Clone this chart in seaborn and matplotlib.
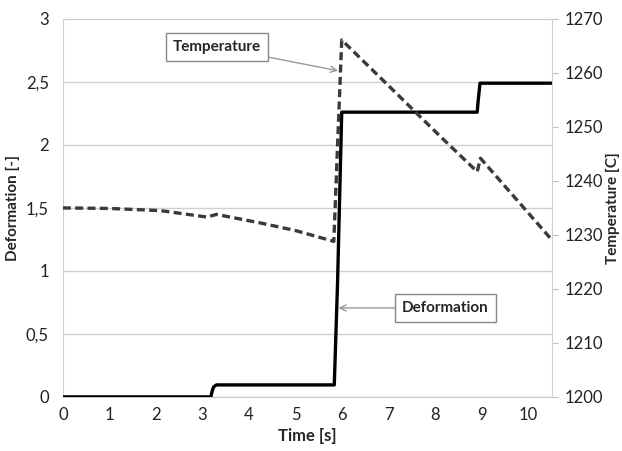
import pandas as pd
import matplotlib.pyplot as plt
import seaborn as sns

# Deformation trace (left axis)
def_time = [0, 3.18, 3.21, 3.24, 3.3, 5.83, 5.9, 5.99, 8.9, 8.92, 8.96, 10.5]
def_value = [0, 0, 0.05, 0.08, 0.095, 0.095, 0.9, 2.26, 2.26, 2.35, 2.49, 2.49]

# Temperature trace (right axis)
temp_time = [0, 1.0, 2.1, 3.1, 3.3, 4.25, 5.0, 5.82, 5.99, 7.0, 8.1, 8.9, 8.97, 10.5]
temp_value = [1235, 1234.9, 1234.5, 1233.3, 1233.8, 1232.2, 1230.8, 1228.8,
              1266.1, 1257.6, 1248.3, 1241.7, 1244.2, 1229.1]

left_ticks = [0, 0.5, 1, 1.5, 2, 2.5, 3]
left_labels = ['0', '0,5', '1', '1,5', '2', '2,5', '3']
right_ticks = [1200, 1210, 1220, 1230, 1240, 1250, 1260, 1270]
x_ticks = list(range(0, 11))

df_def = pd.DataFrame({'t': def_time, 'd': def_value})
df_temp = pd.DataFrame({'t': temp_time, 'T': temp_value})

sns.set_style('white')
plt.rcParams['font.family'] = ['Lato', 'DejaVu Sans']

fig = plt.figure(figsize=(6.22, 4.51), dpi=100)
ax = fig.add_axes([0.101, 0.12, 0.786, 0.838])
ax2 = ax.twinx()

sns.lineplot(data=df_def, x='t', y='d', ax=ax, color='black', linewidth=2.4, zorder=3)
sns.lineplot(data=df_temp, x='t', y='T', ax=ax2, color='#3a3a3a', linewidth=2.4,
             dashes=False, zorder=2)
ax2.lines[0].set_dashes((2.4, 1.3))

ax.set_xlim(0, 10.5)
ax.set_ylim(0, 3)
ax2.set_ylim(1200, 1270)

ax.set_xticks(x_ticks)
ax.set_yticks(left_ticks)
ax.set_yticklabels(left_labels)
ax2.set_yticks(right_ticks)

ax.yaxis.grid(True, color='#d0d0d0', linewidth=1)
ax.set_axisbelow(True)
ax.tick_params(axis='y', length=0, labelsize=12, colors='#222222', pad=10)
ax.tick_params(axis='x', length=0, labelsize=12, colors='#222222', pad=7)
ax2.tick_params(axis='y', length=4, color='#c0c0c0', labelsize=12, labelcolor='#222222', pad=5)

for s in ['top', 'right']:
    ax.spines[s].set_visible(False)
ax2.spines['top'].set_visible(False)
ax2.spines['left'].set_visible(False)
ax2.spines['bottom'].set_visible(False)
ax.spines['left'].set_color('#d0d0d0')
ax.spines['bottom'].set_color('#c8c8c8')
ax2.spines['right'].set_color('#d0d0d0')

ax.set_xlabel('Time [s]', fontsize=12, fontweight='bold', labelpad=4)
ax.set_ylabel('Deformation [-]', fontsize=11, fontweight='bold', labelpad=4)
ax2.set_ylabel('Temperature [C]', fontsize=11, fontweight='bold', labelpad=2)

box = dict(boxstyle='square,pad=0.45', fc='white', ec='#888888', lw=1)
arrow = dict(arrowstyle='->', color='#999999', lw=1, shrinkA=0, shrinkB=0)
ax2.annotate('Temperature', xy=(5.91, 1260.4), xytext=(3.31, 1264.8),
             fontsize=11, fontweight='bold', ha='center', va='center',
             bbox=box, arrowprops=arrow, zorder=5)
ax.annotate('Deformation', xy=(5.92, 0.706), xytext=(8.22, 0.706),
            fontsize=11, fontweight='bold', ha='center', va='center',
            bbox=box, arrowprops=arrow, zorder=5)

fig.savefig('out.png', dpi=100)
